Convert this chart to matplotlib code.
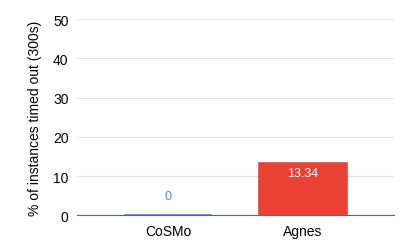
import matplotlib
matplotlib.use("Agg")
import matplotlib.pyplot as plt

categories = ["CoSMo", "Agnes"]
values = [0, 13.34]
value_labels = ["0", "13.34"]
colors = ["#4285F4", "#EA4335"]
yticks = [0, 10, 20, 30, 40, 50]

plt.rcParams["font.family"] = ["Liberation Sans", "DejaVu Sans"]

fig = plt.figure(figsize=(4.07, 2.53), dpi=100)
ax = fig.add_axes([0.189, 0.145, 0.779, 0.775])

x = range(len(categories))
bars = ax.bar(x, values, width=0.65, color=colors, edgecolor=colors, linewidth=1.2, zorder=3)

for i, (v, lab) in enumerate(zip(values, value_labels)):
    if v > 3:
        ax.text(i, v - 1.0, lab, ha="center", va="top", color="white", fontsize=9, zorder=4)
    else:
        ax.text(i, v + 3.3, lab, ha="center", va="bottom", color=colors[i], fontsize=9, zorder=4)

ax.set_xlim(-0.674, 1.674)
ax.set_ylim(0, 50)
ax.set_yticks(yticks)
ax.set_xticks(list(x))
ax.set_xticklabels(categories, fontsize=10)
ax.tick_params(axis="y", labelsize=10, length=0, pad=6)
ax.tick_params(axis="x", length=0, pad=6)
ax.grid(axis="y", color="#e3e3e3", linewidth=0.8, zorder=0)
for s in ["top", "right", "left"]:
    ax.spines[s].set_visible(False)
ax.spines["bottom"].set_color("#666666")
ax.spines["bottom"].set_linewidth(0.8)
ax.spines["bottom"].set_zorder(5)
ax.set_ylabel("% of instances timed out (300s)", fontsize=10, labelpad=8)

fig.savefig("out.png", dpi=100)
